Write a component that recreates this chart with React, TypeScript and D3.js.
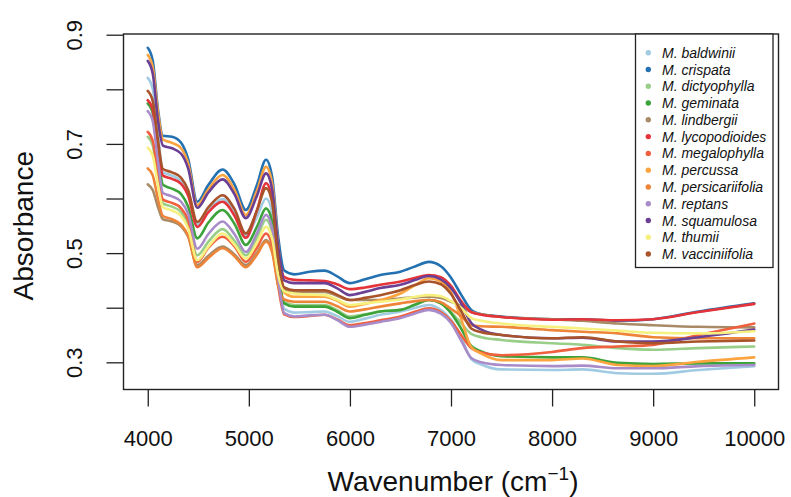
import React, { useEffect, useRef } from 'react';
import * as d3 from 'd3';

const wavenumbers = [4000, 4050, 4100, 4150, 4240, 4330, 4400, 4490, 4600, 4740, 4860, 4970, 5080, 5170, 5230, 5290, 5350, 5450, 5600, 5750, 5870, 6000, 6150, 6300, 6500, 6650, 6780, 6900, 7000, 7100, 7200, 7300, 7500, 8000, 8300, 8650, 9000, 9450, 10000];

const species = ['M. baldwinii', 'M. crispata', 'M. dictyophylla', 'M. geminata', 'M. lindbergii', 'M. lycopodioides', 'M. megalophylla', 'M. percussa', 'M. persicariifolia', 'M. reptans', 'M. squamulosa', 'M. thumii', 'M. vacciniifolia'];
const colors = ['#A0CBE2', '#2471B2', '#98CE88', '#3CA33A', '#A88B66', '#E4343A', '#F0603F', '#FCA43F', '#EE8438', '#A88CCA', '#6A3F94', '#F6F07E', '#A9532B'];

const baldwinii = [0.821, 0.800, 0.720, 0.648, 0.642, 0.632, 0.612, 0.552, 0.578, 0.599, 0.573, 0.532, 0.566, 0.600, 0.575, 0.470, 0.398, 0.391, 0.392, 0.393, 0.385, 0.374, 0.380, 0.387, 0.393, 0.400, 0.405, 0.396, 0.378, 0.346, 0.306, 0.296, 0.287, 0.286, 0.287, 0.280, 0.279, 0.286, 0.293];
const crispata = [0.876, 0.852, 0.765, 0.715, 0.713, 0.702, 0.672, 0.594, 0.625, 0.653, 0.625, 0.579, 0.625, 0.671, 0.640, 0.530, 0.468, 0.461, 0.466, 0.468, 0.458, 0.445, 0.452, 0.460, 0.466, 0.476, 0.484, 0.476, 0.455, 0.424, 0.396, 0.388, 0.384, 0.379, 0.379, 0.376, 0.379, 0.393, 0.408];
const dictyophylla = [0.713, 0.697, 0.640, 0.591, 0.585, 0.575, 0.552, 0.496, 0.521, 0.544, 0.522, 0.496, 0.528, 0.561, 0.538, 0.455, 0.410, 0.405, 0.405, 0.405, 0.396, 0.384, 0.388, 0.393, 0.396, 0.406, 0.414, 0.408, 0.392, 0.372, 0.352, 0.346, 0.341, 0.335, 0.332, 0.326, 0.323, 0.326, 0.329];
const geminata = [0.774, 0.756, 0.685, 0.625, 0.618, 0.608, 0.585, 0.527, 0.556, 0.579, 0.553, 0.515, 0.548, 0.582, 0.558, 0.470, 0.408, 0.402, 0.402, 0.402, 0.393, 0.381, 0.387, 0.393, 0.396, 0.406, 0.414, 0.408, 0.390, 0.362, 0.330, 0.320, 0.311, 0.309, 0.309, 0.299, 0.297, 0.298, 0.298];
const lindbergii = [0.626, 0.615, 0.585, 0.562, 0.558, 0.549, 0.530, 0.478, 0.495, 0.512, 0.497, 0.478, 0.500, 0.524, 0.506, 0.450, 0.433, 0.429, 0.429, 0.429, 0.422, 0.414, 0.414, 0.414, 0.417, 0.419, 0.420, 0.418, 0.411, 0.403, 0.392, 0.388, 0.383, 0.379, 0.376, 0.371, 0.368, 0.365, 0.364];
const lycopodioides = [0.780, 0.762, 0.695, 0.642, 0.636, 0.627, 0.605, 0.548, 0.575, 0.594, 0.568, 0.528, 0.578, 0.628, 0.600, 0.505, 0.456, 0.451, 0.450, 0.449, 0.443, 0.434, 0.437, 0.442, 0.448, 0.455, 0.460, 0.456, 0.440, 0.412, 0.392, 0.387, 0.383, 0.378, 0.379, 0.377, 0.379, 0.392, 0.407];
const megalophylla = [0.722, 0.705, 0.645, 0.598, 0.592, 0.582, 0.560, 0.484, 0.510, 0.530, 0.512, 0.484, 0.510, 0.536, 0.515, 0.440, 0.388, 0.383, 0.385, 0.387, 0.379, 0.368, 0.372, 0.377, 0.384, 0.393, 0.399, 0.392, 0.376, 0.350, 0.326, 0.318, 0.313, 0.319, 0.326, 0.329, 0.332, 0.350, 0.371];
const percussa = [0.863, 0.840, 0.760, 0.708, 0.702, 0.692, 0.664, 0.588, 0.617, 0.643, 0.615, 0.570, 0.614, 0.658, 0.628, 0.515, 0.428, 0.420, 0.420, 0.420, 0.413, 0.402, 0.407, 0.414, 0.426, 0.442, 0.454, 0.448, 0.428, 0.380, 0.328, 0.316, 0.304, 0.304, 0.307, 0.295, 0.293, 0.301, 0.309];
const persicariifolia = [0.655, 0.642, 0.600, 0.568, 0.562, 0.552, 0.532, 0.474, 0.491, 0.509, 0.494, 0.474, 0.497, 0.521, 0.502, 0.440, 0.415, 0.411, 0.411, 0.411, 0.403, 0.393, 0.397, 0.402, 0.408, 0.412, 0.414, 0.410, 0.398, 0.385, 0.368, 0.366, 0.365, 0.359, 0.356, 0.353, 0.346, 0.344, 0.344];
const reptans = [0.760, 0.741, 0.670, 0.610, 0.604, 0.594, 0.572, 0.508, 0.535, 0.558, 0.534, 0.502, 0.536, 0.570, 0.546, 0.455, 0.390, 0.384, 0.386, 0.387, 0.378, 0.365, 0.369, 0.374, 0.381, 0.390, 0.396, 0.389, 0.372, 0.340, 0.308, 0.300, 0.295, 0.293, 0.294, 0.289, 0.289, 0.293, 0.295];
const squamulosa = [0.852, 0.828, 0.745, 0.697, 0.692, 0.682, 0.655, 0.583, 0.611, 0.635, 0.607, 0.564, 0.605, 0.646, 0.617, 0.512, 0.450, 0.445, 0.445, 0.445, 0.436, 0.423, 0.429, 0.436, 0.442, 0.451, 0.458, 0.452, 0.436, 0.408, 0.372, 0.360, 0.350, 0.344, 0.345, 0.338, 0.338, 0.346, 0.360];
const thumii = [0.693, 0.678, 0.626, 0.584, 0.578, 0.568, 0.545, 0.487, 0.512, 0.536, 0.515, 0.490, 0.519, 0.548, 0.527, 0.460, 0.430, 0.426, 0.424, 0.423, 0.415, 0.405, 0.408, 0.411, 0.415, 0.420, 0.423, 0.421, 0.412, 0.400, 0.381, 0.376, 0.371, 0.365, 0.362, 0.358, 0.354, 0.353, 0.357];
const vacciniifolia = [0.797, 0.778, 0.708, 0.654, 0.648, 0.638, 0.615, 0.557, 0.584, 0.606, 0.580, 0.536, 0.578, 0.619, 0.593, 0.490, 0.437, 0.432, 0.432, 0.432, 0.424, 0.414, 0.418, 0.423, 0.432, 0.442, 0.448, 0.443, 0.425, 0.394, 0.362, 0.355, 0.350, 0.344, 0.346, 0.338, 0.335, 0.338, 0.340];

const spectra = [baldwinii, crispata, dictyophylla, geminata, lindbergii, lycopodioides, megalophylla, percussa, persicariifolia, reptans, squamulosa, thumii, vacciniifolia];

const xTicks = [4000, 5000, 6000, 7000, 8000, 9000, 10000];
const yTicks = [0.3, 0.4, 0.5, 0.6, 0.7, 0.8, 0.9];
const yLabelled = [0.3, 0.5, 0.7, 0.9];

const FONT = '"Liberation Sans", Arial, Helvetica, sans-serif';

export default function App() {
  const ref = useRef<SVGSVGElement>(null);

  useEffect(() => {
    const svg = d3.select(ref.current);
    svg.selectAll('*').remove();

    // plot region (R style, 4% padding on both axes)
    const left = 123.5, right = 778.5, top = 34, bottom = 389.5;
    const x = d3.scaleLinear().domain([3760, 10240]).range([left, right]);
    const y = d3.scaleLinear().domain([0.2502, 0.9013]).range([bottom, top]);

    svg.append('defs').append('clipPath').attr('id', 'plotclip')
      .append('rect')
      .attr('x', left).attr('y', top)
      .attr('width', right - left).attr('height', bottom - top);

    const line = d3.line<number>()
      .x((d, i) => x(wavenumbers[i]))
      .y(d => y(d))
      .curve(d3.curveMonotoneX);

    svg.append('g').attr('clip-path', 'url(#plotclip)')
      .selectAll('path')
      .data(spectra)
      .join('path')
      .attr('d', d => line(d))
      .attr('fill', 'none')
      .attr('stroke', (d, i) => colors[i])
      .attr('stroke-width', 2.6)
      .attr('stroke-linejoin', 'round')
      .attr('stroke-linecap', 'round');

    // x axis
    const xg = svg.append('g')
      .attr('transform', `translate(0, ${bottom})`)
      .call(d3.axisBottom(x).tickValues(xTicks).tickSize(17).tickFormat(d3.format('d')));
    xg.select('.domain').remove();
    xg.selectAll('line').attr('stroke', '#222').attr('stroke-width', 1.3);
    xg.selectAll('text')
      .attr('y', 56).attr('dy', 0)
      .attr('fill', '#111')
      .style('font-family', FONT).style('font-size', '22px');

    // y axis
    const yg = svg.append('g')
      .attr('transform', `translate(${left}, 0)`)
      .call(d3.axisLeft(y).tickValues(yTicks).tickSize(17)
        .tickFormat(d => (yLabelled.some(v => Math.abs(v - (d as number)) < 1e-9) ? d3.format('.1f')(d as number) : '')));
    yg.select('.domain').remove();
    yg.selectAll('line').attr('stroke', '#222').attr('stroke-width', 1.3);
    yg.selectAll('text')
      .attr('x', 0).attr('dy', 0)
      .attr('transform', `translate(-41.5, 0) rotate(-90)`)
      .attr('text-anchor', 'middle')
      .attr('fill', '#111')
      .style('font-family', FONT).style('font-size', '22px');

    // box
    svg.append('rect')
      .attr('x', left).attr('y', top)
      .attr('width', right - left).attr('height', bottom - top)
      .attr('fill', 'none').attr('stroke', '#222').attr('stroke-width', 1.4);

    // axis titles
    svg.append('text')
      .attr('transform', `translate(33, ${(top + bottom) / 2 + 14}) rotate(-90)`)
      .attr('text-anchor', 'middle')
      .attr('fill', '#111')
      .style('font-family', FONT).style('font-size', '28px')
      .text('Absorbance');

    const xt = svg.append('text')
      .attr('x', (left + right) / 2 + 2).attr('y', 491)
      .attr('text-anchor', 'middle')
      .attr('fill', '#111')
      .style('font-family', FONT).style('font-size', '28px');
    xt.append('tspan').text('Wavenumber (cm');
    xt.append('tspan').attr('dy', -11).style('font-size', '19px').text('\u22121');
    xt.append('tspan').attr('dy', 11).text(')');

    // legend
    const lx = 635.5, ly = 34, lw = 137.5, lh = 233.5;
    const legend = svg.append('g');
    legend.append('rect')
      .attr('x', lx).attr('y', ly).attr('width', lw).attr('height', lh)
      .attr('fill', '#fff').attr('stroke', '#222').attr('stroke-width', 1.3);
    const rows = legend.selectAll('g.row')
      .data(species)
      .join('g')
      .attr('class', 'row')
      .attr('transform', (d, i) => `translate(${lx}, ${52.7 + i * 16.78})`);
    rows.append('circle')
      .attr('cx', 12.8).attr('cy', 0).attr('r', 2.7)
      .attr('fill', (d, i) => colors[i]);
    rows.append('text')
      .attr('x', 26.5).attr('dy', '0.36em')
      .attr('fill', '#111')
      .style('font-family', FONT).style('font-size', '14px').style('font-style', 'italic')
      .text(d => d);
  }, []);

  return (
    <svg ref={ref} width={791} height={497}
      style={{ position: 'absolute', left: 0, top: 0, background: '#fff' }} />
  );
}
